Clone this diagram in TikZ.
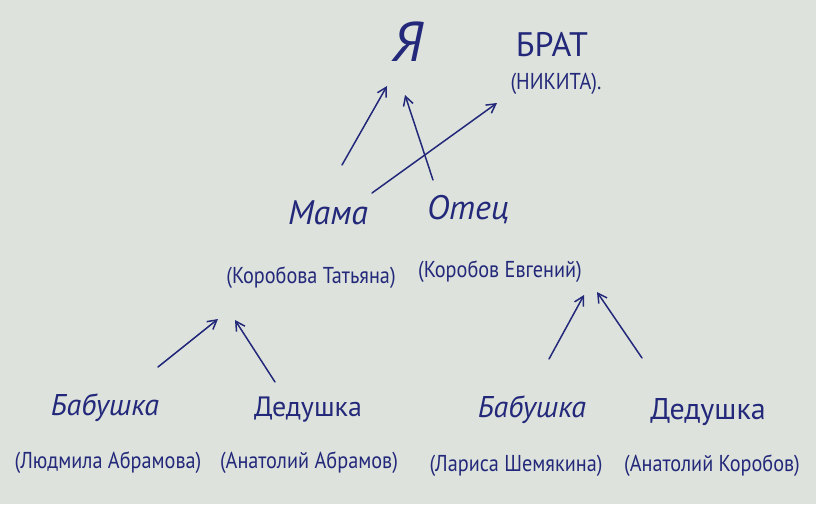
\documentclass[tikz,border=0pt]{standalone}
\usepackage{fontspec}
\setmainfont{PT Sans}
\newfontfamily\narrowfont[FakeStretch=0.88]{PT Sans}
\usetikzlibrary{arrows.meta,calc}
\definecolor{ink}{HTML}{23287A}
\definecolor{paper}{HTML}{DDE3DC}
\begin{document}
\begin{tikzpicture}[x=1pt,y=-1pt,
  cursive/.style={text=ink, inner sep=0pt, font=\fontsize{34}{36}\selectfont\itshape},
  caps/.style={text=ink, inner sep=0pt, font=\fontsize{28}{30}\selectfont},
  full/.style={text=ink, inner sep=0pt, font=\narrowfont\fontsize{23}{26}\selectfont},
  arr/.style={draw=ink, line width=1.5pt, line cap=round, -{Straight Barb[length=9pt,width=10pt,line width=1.5pt]}}]
\fill[paper] (0,0) rectangle (816,504);
\useasboundingbox (0,0) rectangle (816,504);
% top
\node[cursive, font=\fontsize{56}{56}\selectfont\itshape] (ya) at (408,42) {Я};
\node[caps, font=\fontsize{34}{36}\selectfont] (brat) at (552,45) {БРАТ};
\node[full] (nikita) at (556,84) {(НИКИТА).};
% parents
\node[cursive] (mama) at (328,213) {Мама};
\node[full] (mamaF) at (311,278) {(Коробова Татьяна)};
\node[cursive] (otets) at (468,210) {Отец};
\node[full] (otetsF) at (500,272) {(Коробов Евгений)};
% grandparents
\node[cursive, font=\fontsize{30}{32}\selectfont\itshape] (babL) at (105,408) {Бабушка};
\node[full] (babLF) at (108,463) {(Людмила Абрамова)};
\node[caps] (dedL) at (308,410) {Дедушка};
\node[full] (dedLF) at (309,463) {(Анатолий Абрамов)};
\node[cursive, font=\fontsize{30}{32}\selectfont\itshape] (babR) at (532,410) {Бабушка};
\node[full] (babRF) at (516,466) {(Лариса Шемякина)};
\node[caps, font=\fontsize{30}{32}\selectfont] (dedR) at (708,412) {Дедушка};
\node[full] (dedRF) at (712,466) {(Анатолий Коробов)};
% arrows
\draw[arr] ($(mama)+(14,-48)$) -- ($(ya)+(-21,44)$);
\draw[arr] ($(otets)+(-35,-30)$) -- ($(ya)+(-3,53)$);
\draw[arr] ($(mama)+(44,-20)$) -- ($(nikita)+(-59,19)$);
\draw[arr] ($(babL)+(53,-41)$) -- ($(mamaF)+(-93,41)$);
\draw[arr] ($(dedL)+(-33,-28)$) -- ($(mamaF)+(-76,42)$);
\draw[arr] ($(babR)+(17,-51)$) -- ($(otetsF)+(84,23)$);
\draw[arr] ($(dedR)+(-66,-54)$) -- ($(otetsF)+(97,20)$);
\end{tikzpicture}
\end{document}
